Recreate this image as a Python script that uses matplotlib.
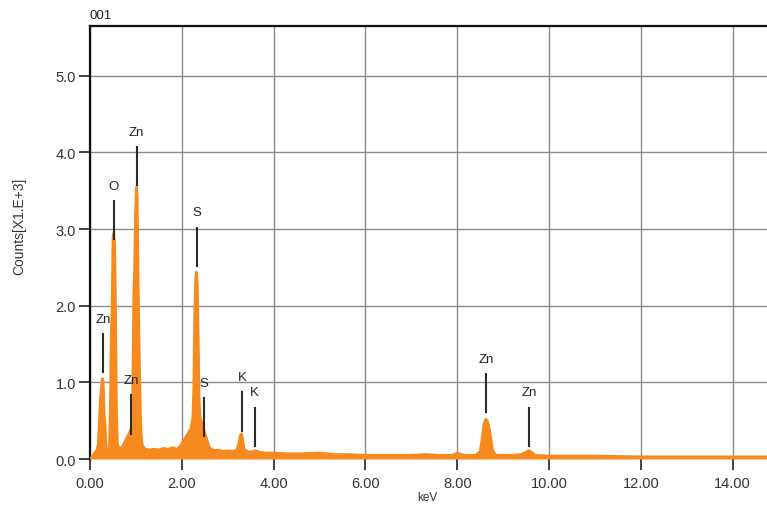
#!/usr/bin/env python3
# EDS spectrum of sample 001: counts vs. energy with element line markers.

import matplotlib
matplotlib.use("Agg")
import matplotlib.pyplot as plt

plt.rcParams["font.family"] = ["Liberation Sans", "DejaVu Sans"]

SPEC_COLOR = "#F68A1E"
GRID_COLOR = "#8c8c8c"
MARK_COLOR = "#2b2b2b"

# spectrum (keV, counts x1000)
energy_kev = [
    0.00, 0.05, 0.10, 0.15, 0.18, 0.20, 0.22, 0.25, 0.27, 0.29, 0.31, 0.33,
    0.35, 0.37, 0.40, 0.42, 0.44, 0.46, 0.48, 0.50, 0.52, 0.54, 0.56, 0.58,
    0.60, 0.63, 0.66, 0.70, 0.74, 0.78, 0.82, 0.86, 0.90, 0.93, 0.95, 0.97,
    0.99, 1.01, 1.03, 1.05, 1.07, 1.09, 1.11, 1.14, 1.20, 1.30, 1.40, 1.50,
    1.60, 1.70, 1.80, 1.90, 1.95, 2.00, 2.05, 2.10, 2.15, 2.20, 2.24, 2.26,
    2.28, 2.30, 2.32, 2.34, 2.36, 2.38, 2.40, 2.45, 2.50, 2.55, 2.60, 2.70,
    2.80, 2.90, 3.00, 3.10, 3.20, 3.24, 3.27, 3.30, 3.33, 3.36, 3.45, 3.55,
    3.60, 3.70, 3.80, 4.00, 4.30, 4.60, 5.00, 5.30, 5.60, 6.00, 6.50, 7.00,
    7.30, 7.60, 7.90, 8.00, 8.05, 8.15, 8.40, 8.50, 8.55, 8.58, 8.62, 8.66,
    8.70, 8.74, 8.78, 8.85, 9.20, 9.40, 9.50, 9.56, 9.62, 9.70, 10.00, 11.00,
    12.00, 13.00, 14.00, 15.00,
]
counts_k = [
    0.00, 0.03, 0.08, 0.12, 0.20, 0.45, 0.75, 0.95, 1.05, 1.00, 0.60, 0.45,
    0.20, 0.10, 0.08, 0.15, 0.60, 1.60, 1.95, 2.90, 2.95, 2.80, 1.90, 0.60,
    0.20, 0.12, 0.15, 0.15, 0.20, 0.25, 0.30, 0.35, 0.40, 0.85, 2.05, 2.50,
    3.20, 3.55, 3.45, 2.40, 1.60, 0.90, 0.40, 0.18, 0.13, 0.12, 0.13, 0.12,
    0.14, 0.13, 0.15, 0.13, 0.16, 0.20, 0.25, 0.30, 0.35, 0.40, 0.55, 0.95,
    1.90, 2.35, 2.44, 2.30, 1.60, 0.80, 0.55, 0.45, 0.35, 0.25, 0.15, 0.11,
    0.12, 0.10, 0.11, 0.10, 0.12, 0.20, 0.30, 0.33, 0.25, 0.13, 0.09, 0.10,
    0.11, 0.09, 0.08, 0.08, 0.07, 0.07, 0.08, 0.06, 0.06, 0.05, 0.05, 0.05,
    0.06, 0.05, 0.05, 0.08, 0.07, 0.05, 0.05, 0.10, 0.30, 0.45, 0.52, 0.50,
    0.40, 0.25, 0.10, 0.05, 0.05, 0.06, 0.09, 0.11, 0.09, 0.05, 0.04, 0.04,
    0.03, 0.03, 0.03, 0.03,
]

# element line markers: label, energy, bottom of the marker line
mark_labels = ["Zn", "O", "Zn", "Zn", "S", "S", "K", "K", "Zn", "Zn"]
mark_kev = [0.28, 0.52, 1.02, 0.89, 2.33, 2.48, 3.31, 3.59, 8.63, 9.57]
mark_base = [1.13, 2.87, 3.57, 0.33, 2.52, 0.30, 0.37, 0.17, 0.61, 0.17]
MARK_LEN = 0.50

x_ticks = [0, 2, 4, 6, 8, 10, 12, 14]
y_ticks = [0, 1, 2, 3, 4, 5]


def main():
    fig = plt.figure(figsize=(7.67, 5.06), dpi=100)
    ax = fig.add_axes([0.1173, 0.0909, 0.8977, 0.8557])

    ax.set_xlim(0, 15)
    ax.set_ylim(0, 5.65)

    ax.fill_between(energy_kev, counts_k, 0, color=SPEC_COLOR, lw=0, zorder=3)
    ax.plot(energy_kev, counts_k, color=SPEC_COLOR, lw=1.8, zorder=3)

    for label, x, y0 in zip(mark_labels, mark_kev, mark_base):
        ax.plot([x, x], [y0, y0 + MARK_LEN], color=MARK_COLOR, lw=1.5, zorder=4)
        ax.text(x, y0 + MARK_LEN + 0.12, label, ha="center", va="bottom",
                fontsize=9.5, color="#222222", zorder=5)

    ax.set_xticks(x_ticks)
    ax.set_xticklabels([f"{v:.2f}" for v in x_ticks])
    ax.set_yticks(y_ticks)
    ax.set_yticklabels([f"{v:.1f}" for v in y_ticks])
    ax.grid(True, color=GRID_COLOR, lw=1.0, zorder=0)
    ax.set_axisbelow(True)

    ax.tick_params(axis="both", direction="out", length=8, width=1.2,
                   color="#222222", labelsize=10.5, labelcolor="#333333")
    ax.tick_params(axis="x", pad=4)
    ax.tick_params(axis="y", pad=2)

    for side in ["left", "top"]:
        ax.spines[side].set_color("#111111")
        ax.spines[side].set_linewidth(1.6)
    ax.spines["bottom"].set_visible(False)
    ax.spines["right"].set_visible(False)

    ax.set_ylabel("Counts[X1.E+3]", fontsize=10, color="#333333")
    ax.yaxis.set_label_coords(-0.093, 0.54)
    ax.set_xlabel("keV", fontsize=8.5, color="#333333")
    ax.xaxis.set_label_coords(0.49, -0.073)
    ax.text(0.0, 1.012, "001", transform=ax.transAxes, ha="left", va="bottom",
            fontsize=9.5, color="#222222")

    fig.savefig("out.png", dpi=100)
    plt.close(fig)


if __name__ == "__main__":
    main()
